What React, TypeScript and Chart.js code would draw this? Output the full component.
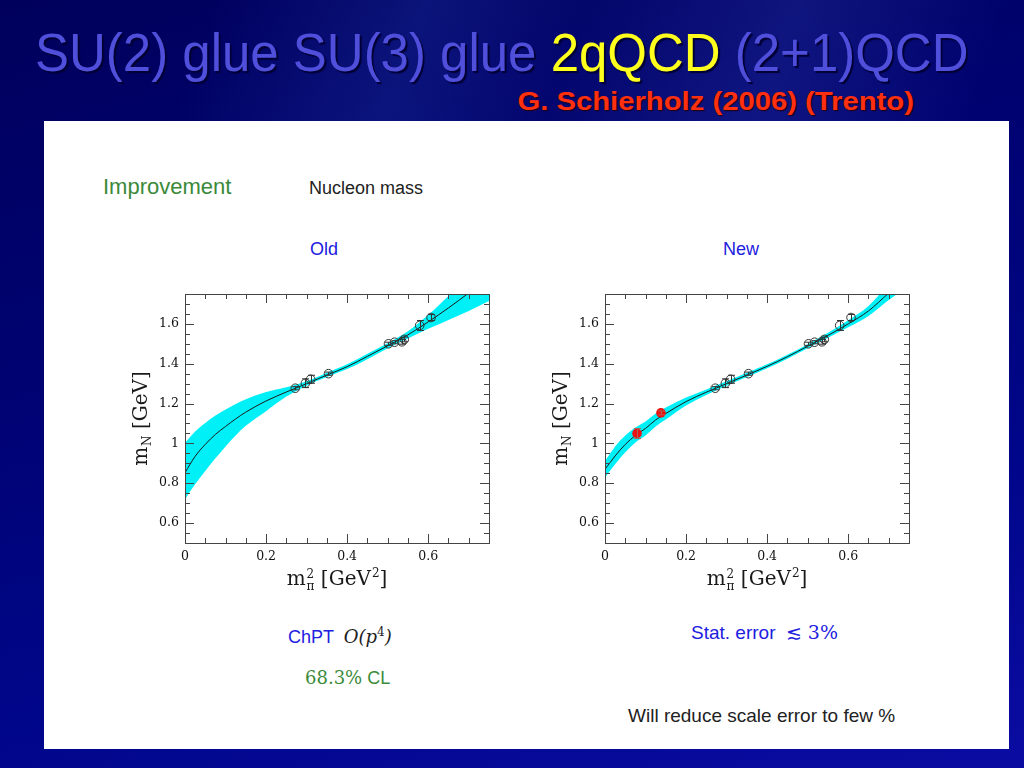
import React, { useEffect, useRef } from "react";
import { Chart, registerables } from "chart.js";

Chart.register(...registerables);

// ---------- data ----------
const xSamples = [0, 0.025, 0.05, 0.075, 0.1, 0.125, 0.15, 0.2, 0.25, 0.3, 0.35, 0.4, 0.45, 0.5, 0.55, 0.6, 0.65, 0.7, 0.75];

const oldLower = [0.72, 0.795, 0.862, 0.925, 0.985, 1.04, 1.088, 1.162, 1.235, 1.29, 1.333, 1.373, 1.423, 1.478, 1.527, 1.575, 1.62, 1.665, 1.715];
const oldCenter = [0.853, 0.935, 0.995, 1.045, 1.085, 1.123, 1.157, 1.213, 1.258, 1.3, 1.343, 1.385, 1.437, 1.49, 1.545, 1.61, 1.68, 1.755, 1.83];
const oldUpper = [1.003, 1.06, 1.103, 1.14, 1.17, 1.198, 1.222, 1.258, 1.282, 1.312, 1.355, 1.397, 1.45, 1.503, 1.563, 1.645, 1.74, 1.84, 1.94];

const newLower = [0.828, 0.895, 0.955, 1.005, 1.04, 1.085, 1.12, 1.19, 1.243, 1.29, 1.333, 1.377, 1.425, 1.478, 1.53, 1.583, 1.64, 1.72, 1.79];
const newCenter = [0.87, 0.937, 0.995, 1.04, 1.075, 1.118, 1.15, 1.21, 1.257, 1.3, 1.343, 1.387, 1.435, 1.488, 1.542, 1.6, 1.665, 1.755, 1.845];
const newUpper = [0.912, 0.985, 1.04, 1.08, 1.11, 1.15, 1.18, 1.23, 1.271, 1.312, 1.355, 1.397, 1.445, 1.498, 1.555, 1.618, 1.69, 1.8, 1.9];

const latticeX = [0.272, 0.297, 0.31, 0.354, 0.502, 0.517, 0.535, 0.541, 0.579, 0.607];
const latticeY = [1.277, 1.302, 1.322, 1.35, 1.5, 1.508, 1.51, 1.522, 1.592, 1.632];
const latticeErr = [0.008, 0.022, 0.02, 0.008, 0.008, 0.008, 0.012, 0.012, 0.025, 0.015];

const newPointsX = [0.079, 0.138];
const newPointsY = [1.05, 1.153];
const newPointsErr = [0.025, 0.01];

const xTicks = [0, 0.2, 0.4, 0.6];
const yTicks = [0.6, 0.8, 1, 1.2, 1.4, 1.6];
const X_MIN = 0;
const X_MAX = 0.75;
const Y_MIN = 0.5;
const Y_MAX = 1.75;
const MINOR_STEP = 0.05;

// ---------- plugins ----------
const errorBarPlugin = {
  id: "errorBars",
  afterDatasetDraw(chart: any, args: any) {
    const { ctx, scales } = chart;
    const ds: any = chart.data.datasets[args.index];
    if (!ds || !ds.errorBars) return;
    ctx.save();
    ctx.strokeStyle = ds.errorColor || "#333";
    ctx.lineWidth = 1;
    ds.data.forEach((p: any, i: number) => {
      const e = ds.errorBars[i];
      const px = Math.round(scales.x.getPixelForValue(p.x)) + 0.5;
      const y1 = scales.y.getPixelForValue(p.y - e);
      const y2 = scales.y.getPixelForValue(p.y + e);
      ctx.beginPath();
      ctx.moveTo(px, y1);
      ctx.lineTo(px, y2);
      ctx.moveTo(px - 3.5, y1);
      ctx.lineTo(px + 3.5, y1);
      ctx.moveTo(px - 3.5, y2);
      ctx.lineTo(px + 3.5, y2);
      ctx.stroke();
    });
    ctx.restore();
  },
};

const framePlugin = {
  id: "frameTicks",
  afterDraw(chart: any) {
    const { ctx, chartArea: a, scales } = chart;
    const xs = scales.x;
    const ys = scales.y;
    ctx.save();
    ctx.strokeStyle = "#444";
    ctx.lineWidth = 1;
    ctx.strokeRect(Math.round(a.left) + 0.5, Math.round(a.top) + 0.5, Math.round(a.right - a.left), Math.round(a.bottom - a.top));
    ctx.beginPath();
    const nx = Math.round((X_MAX - X_MIN) / MINOR_STEP);
    for (let i = 0; i <= nx; i++) {
      const v = X_MIN + i * MINOR_STEP;
      const px = Math.round(xs.getPixelForValue(v)) + 0.5;
      const major = xTicks.some((t) => Math.abs(t - v) < 1e-6);
      const len = major ? 9 : 5;
      ctx.moveTo(px, a.bottom);
      ctx.lineTo(px, a.bottom - len);
      ctx.moveTo(px, a.top);
      ctx.lineTo(px, a.top + len);
    }
    const ny = Math.round((Y_MAX - Y_MIN) / MINOR_STEP);
    for (let i = 0; i <= ny; i++) {
      const v = Y_MIN + i * MINOR_STEP;
      const py = Math.round(ys.getPixelForValue(v)) + 0.5;
      const major = yTicks.some((t) => Math.abs(t - v) < 1e-6);
      const len = major ? 9 : 5;
      ctx.moveTo(a.left, py);
      ctx.lineTo(a.left + len, py);
      ctx.moveTo(a.right, py);
      ctx.lineTo(a.right - len, py);
    }
    ctx.stroke();
    ctx.restore();
  },
};

type Seg = { t: string; kind?: "sub" | "sup" | "supsub"; t2?: string };

function drawRich(ctx: CanvasRenderingContext2D, segs: Seg[], cx: number, baseY: number, size: number, family: string) {
  const big = `${size}px ${family}`;
  const small = `${Math.round(size * 0.62)}px ${family}`;
  const widths = segs.map((s) => {
    if (!s.kind) {
      ctx.font = big;
      return ctx.measureText(s.t).width;
    }
    ctx.font = small;
    if (s.kind === "supsub") return Math.max(ctx.measureText(s.t).width, ctx.measureText(s.t2 || "").width) + 1;
    return ctx.measureText(s.t).width + 1;
  });
  const total = widths.reduce((a, b) => a + b, 0);
  let x = cx - total / 2;
  segs.forEach((s, i) => {
    if (!s.kind) {
      ctx.font = big;
      ctx.fillText(s.t, x, baseY);
    } else {
      ctx.font = small;
      if (s.kind === "sub") ctx.fillText(s.t, x + 1, baseY + size * 0.22);
      if (s.kind === "sup") ctx.fillText(s.t, x + 1, baseY - size * 0.38);
      if (s.kind === "supsub") {
        ctx.fillText(s.t, x + 1, baseY - size * 0.34);
        ctx.fillText(s.t2 || "", x + 1, baseY + size * 0.24);
      }
    }
    x += widths[i];
  });
}

const axisTitlePlugin = {
  id: "axisTitles",
  afterDraw(chart: any) {
    const { ctx, chartArea: a } = chart;
    const fam = "'DejaVu Serif', serif";
    ctx.save();
    ctx.fillStyle = "#1a1a1a";
    ctx.textBaseline = "alphabetic";
    ctx.textAlign = "left";
    drawRich(
      ctx,
      [{ t: "m" }, { t: "2", kind: "supsub", t2: "π" }, { t: " [GeV" }, { t: "2", kind: "sup" }, { t: "]" }],
      (a.left + a.right) / 2,
      a.bottom + 42,
      20,
      fam
    );
    ctx.translate(a.left - 38, (a.top + a.bottom) / 2);
    ctx.rotate(-Math.PI / 2);
    drawRich(ctx, [{ t: "m" }, { t: "N", kind: "sub" }, { t: " [GeV]" }], 0, 0, 20, fam);
    ctx.restore();
  },
};

// ---------- chart component ----------
type PanelProps = {
  lower: number[];
  center: number[];
  upper: number[];
  showNew: boolean;
  left: number;
  top: number;
};

function NucleonChart({ lower, center, upper, showNew, left, top }: PanelProps) {
  const ref = useRef<HTMLCanvasElement | null>(null);
  useEffect(() => {
    if (!ref.current) return;
    const toPts = (ys: number[]) => xSamples.map((x, i) => ({ x, y: ys[i] }));
    const datasets: any[] = [
      {
        label: "band lower",
        data: toPts(lower),
        borderWidth: 0,
        borderColor: "rgba(0,0,0,0)",
        pointRadius: 0,
        fill: false,
        order: 5,
        cubicInterpolationMode: "monotone",
      },
      {
        label: "band upper",
        data: toPts(upper),
        borderWidth: 0,
        borderColor: "rgba(0,0,0,0)",
        backgroundColor: "#00f0f8",
        pointRadius: 0,
        fill: "-1",
        order: 4,
        cubicInterpolationMode: "monotone",
      },
      {
        label: "fit",
        data: toPts(center),
        borderWidth: 1,
        borderColor: "#1a1a1a",
        pointRadius: 0,
        fill: false,
        order: 3,
        cubicInterpolationMode: "monotone",
      },
      {
        label: "lattice",
        data: latticeX.map((x, i) => ({ x, y: latticeY[i] })),
        showLine: false,
        pointRadius: 4.3,
        pointBorderWidth: 1,
        pointBorderColor: "#333",
        pointBackgroundColor: "rgba(0,0,0,0)",
        borderColor: "#333",
        order: 2,
        errorBars: latticeErr,
        errorColor: "#333",
      },
    ];
    if (showNew) {
      datasets.push({
        label: "new",
        data: newPointsX.map((x, i) => ({ x, y: newPointsY[i] })),
        showLine: false,
        pointRadius: 4.8,
        pointBorderWidth: 0,
        pointBackgroundColor: "#ee1111",
        borderColor: "#ee1111",
        order: 1,
        errorBars: newPointsErr,
        errorColor: "#b06050",
      });
    }
    const tickFont = { family: "'DejaVu Serif', serif", size: 12.5 };
    const chart = new Chart(ref.current, {
      type: "line",
      data: { datasets },
      options: {
        animation: false,
        responsive: false,
        devicePixelRatio: 1,
        layout: { padding: { top: 14, right: 21, left: 0, bottom: 0 } },
        plugins: {
          legend: { display: false },
          tooltip: { enabled: false },
          title: { display: false },
          filler: { drawTime: "beforeDatasetsDraw" },
        },
        scales: {
          x: {
            type: "linear",
            min: X_MIN,
            max: X_MAX,
            grid: { display: false, drawTicks: false },
            border: { display: false },
            ticks: {
              font: tickFont,
              color: "#111",
              padding: 6,
              maxRotation: 0,
              autoSkip: false,
              includeBounds: false,
              callback: (v: any) => String(v),
            },
            afterBuildTicks: (s: any) => {
              s.ticks = xTicks.map((value) => ({ value }));
            },
            afterFit: (s: any) => {
              s.height = 67;
            },
          },
          y: {
            type: "linear",
            min: Y_MIN,
            max: Y_MAX,
            grid: { display: false, drawTicks: false },
            border: { display: false },
            ticks: {
              font: tickFont,
              color: "#111",
              padding: 6,
              autoSkip: false,
              includeBounds: false,
              callback: (v: any) => String(v),
            },
            afterBuildTicks: (s: any) => {
              s.ticks = yTicks.map((value) => ({ value }));
            },
            afterFit: (s: any) => {
              s.width = 75;
            },
          },
        },
      } as any,
      plugins: [errorBarPlugin, framePlugin, axisTitlePlugin],
    });
    return () => chart.destroy();
  }, [lower, center, upper, showNew]);
  return (
    <canvas
      ref={ref}
      width={400}
      height={330}
      style={{ position: "absolute", left, top, width: 400, height: 330 }}
    />
  );
}

// ---------- slide ----------
const sans = "'Liberation Sans', Arial, sans-serif";
const serif = "'DejaVu Serif', 'Liberation Serif', serif";
const blue = "#2020e0";
const green = "#3a8a3a";

function Txt(props: { left: number; top: number; size: number; color: string; family?: string; children: any; style?: any }) {
  return (
    <div
      style={{
        position: "absolute",
        left: props.left,
        top: props.top,
        fontSize: props.size,
        lineHeight: `${props.size}px`,
        color: props.color,
        fontFamily: props.family || sans,
        whiteSpace: "nowrap",
        ...(props.style || {}),
      }}
    >
      {props.children}
    </div>
  );
}

export default function App() {
  return (
    <div
      style={{
        position: "fixed",
        left: 0,
        top: 0,
        width: 1024,
        height: 768,
        overflow: "hidden",
        background: "linear-gradient(165deg, #00005c 0%, #000270 35%, #00068a 70%, #0a0ca2 100%)",
      }}
    >
      <div
        style={{
          position: "absolute",
          left: 0,
          top: 0,
          width: 1024,
          height: 121,
          background:
            "linear-gradient(110deg, rgba(40,60,170,0) 20%, rgba(40,70,180,0.28) 40%, rgba(40,60,170,0.08) 55%, rgba(60,80,190,0.25) 75%, rgba(40,60,170,0) 95%)",
        }}
      />
      <div
        style={{
          position: "absolute",
          left: 35,
          top: 25,
          fontFamily: sans,
          fontSize: 54,
          lineHeight: "54px",
          whiteSpace: "nowrap",
          color: "#4f4fdc",
          textShadow: "2px 2px 1px #000035",
          transform: "scaleX(0.944)",
          transformOrigin: "0 0",
        }}
      >
        SU(2) glue SU(3) glue <span style={{ color: "#ffff1e" }}>2qQCD</span> (2+1)QCD
      </div>
      <div
        style={{
          position: "absolute",
          right: 110,
          top: 89,
          fontFamily: sans,
          fontWeight: "bold",
          fontSize: 25,
          lineHeight: "25px",
          color: "#ff3010",
          whiteSpace: "nowrap",
          textShadow: "1px 1px 1px #200010",
          transform: "scaleX(1.17)",
          transformOrigin: "100% 0",
        }}
      >
        G. Schierholz (2006) (Trento)
      </div>
      <div style={{ position: "absolute", left: 44, top: 121, width: 965, height: 628, background: "#ffffff" }} />

      <Txt left={103} top={176} size={22} color={green}>Improvement</Txt>
      <Txt left={309} top={179} size={18} color="#222">Nucleon mass</Txt>
      <Txt left={310} top={240} size={18} color={blue}>Old</Txt>
      <Txt left={723} top={240} size={18} color={blue}>New</Txt>

      <NucleonChart lower={oldLower} center={oldCenter} upper={oldUpper} showNew={false} left={110} top={280} />
      <NucleonChart lower={newLower} center={newCenter} upper={newUpper} showNew={true} left={530} top={280} />

      <Txt left={288} top={623} size={18} color={blue}>
        ChPT{" "}
        <span style={{ fontFamily: serif, fontStyle: "italic", color: "#222", marginLeft: 5 }}>
          O(p<sup style={{ fontSize: 12, fontStyle: "normal" }}>4</sup>)
        </span>
      </Txt>
      <Txt left={305} top={669} size={18} color={green}>
        <span style={{ fontFamily: serif }}>68.3%</span> CL
      </Txt>
      <Txt left={691} top={623} size={19} color={blue}>
        Stat. error <span style={{ fontFamily: serif, marginLeft: 5 }}>≲ 3%</span>
      </Txt>
      <Txt left={628} top={706} size={19} color="#222">Will reduce scale error to few %</Txt>
    </div>
  );
}
